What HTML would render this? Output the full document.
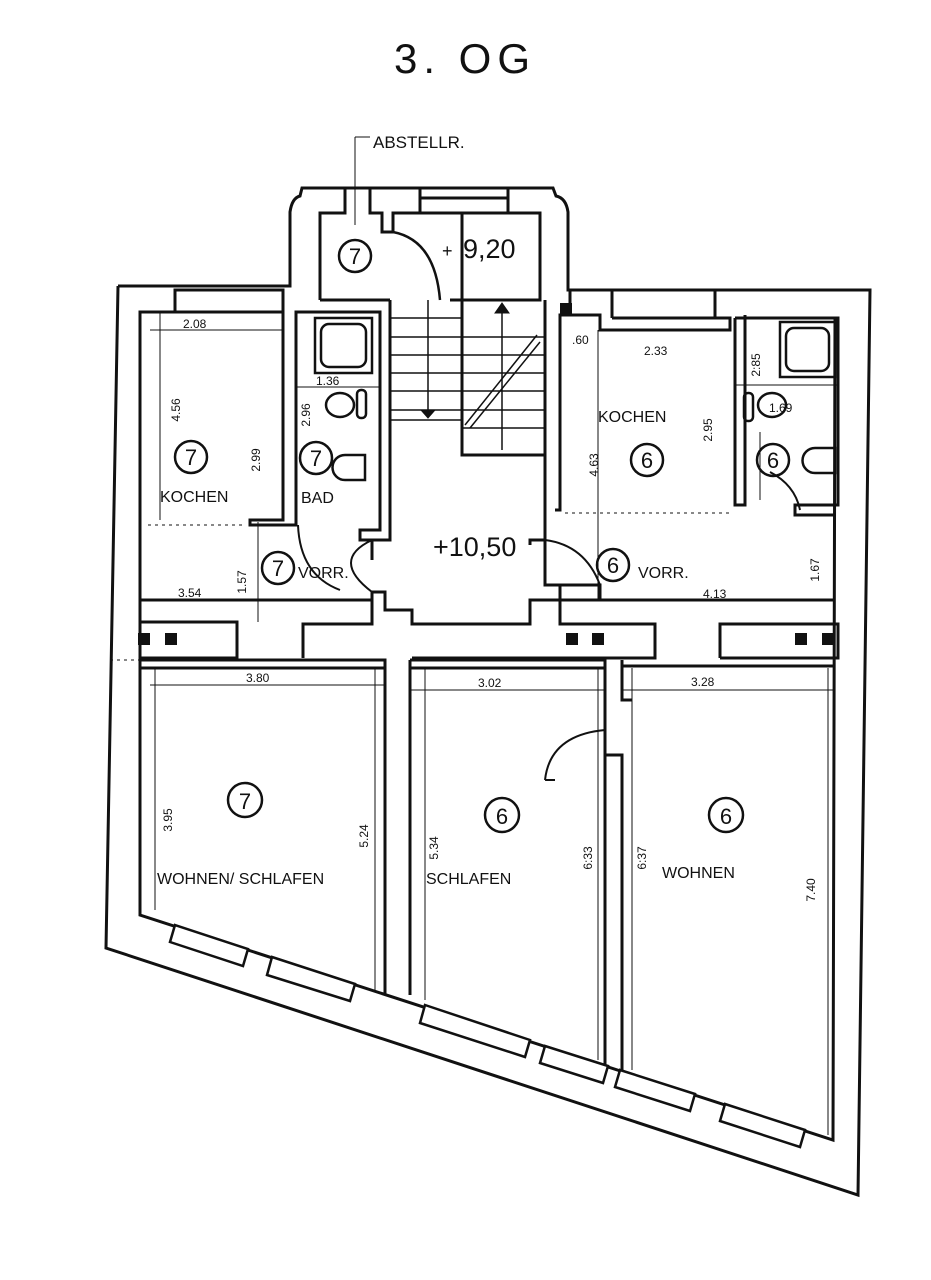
<!DOCTYPE html>
<html><head><meta charset="utf-8"><style>
html,body{margin:0;padding:0;background:#fff;}
svg{display:block}
text{font-family:"Liberation Sans",sans-serif;fill:#111}
</style></head><body>
<svg width="931" height="1280" viewBox="0 0 931 1280" xmlns="http://www.w3.org/2000/svg">
<g fill="none" stroke="#111" stroke-width="3" stroke-linejoin="miter">
<!-- outer perimeter -->
<path d="M118,286 L290,286 L290,212 Q292,198 300,196 L302,188 L553,188 L556,196 Q566,198 568,212 L568,290 L870,290 L858,1195 L106,948 L118,286"/>
<!-- inner lines of outer walls -->
<path d="M148,312 L140,312 L140,915 L833,1140 L835,318"/>
<path d="M175,312 L175,290 L283,290 L283,312 Z"/>
<path d="M148,312 L283,312 L283,520 L250,520 L250,525 L296,525 L296,312 L380,312 L380,530 L360,530 L360,540 L380,540"/>
<!-- abstell block -->
<path d="M320,300 L320,213 L345,213 L345,188 M370,188 L370,213 L382,213 L382,232 L393,232 L393,213 L540,213 L540,300 L450,300"/>
<path d="M420,188 L420,198 L508,198 L508,188 M420,198 L420,213 M508,198 L508,213"/>
<path d="M320,300 L390,300"/>
<!-- stairwell -->
<path d="M390,300 L390,540 L372,540 L372,560 M545,300 L545,540 L530,540 L530,545"/>
<path d="M462,213 L462,455 L545,455"/>
<g stroke-width="1.5">
<line x1="390" y1="318" x2="462" y2="318"/><line x1="390" y1="337" x2="462" y2="337"/><line x1="390" y1="355" x2="462" y2="355"/><line x1="390" y1="373" x2="462" y2="373"/><line x1="390" y1="391" x2="462" y2="391"/><line x1="390" y1="410" x2="462" y2="410"/><line x1="390" y1="420" x2="462" y2="420"/>
<line x1="462" y1="337" x2="545" y2="337"/><line x1="462" y1="355" x2="545" y2="355"/><line x1="462" y1="373" x2="545" y2="373"/><line x1="462" y1="391" x2="545" y2="391"/><line x1="462" y1="410" x2="545" y2="410"/><line x1="462" y1="428" x2="545" y2="428"/>
<line x1="428" y1="300" x2="428" y2="410"/><line x1="502" y1="305" x2="502" y2="450"/>
<line x1="465" y1="425" x2="537" y2="335"/><line x1="470" y1="428" x2="540" y2="342"/>
</g>
<path d="M421,410 L428,418 L435,410 Z M495,313 L502,303 L509,313 Z" fill="#111" stroke-width="1"/>
<path d="M393,232 Q435,240 440,300" stroke-width="2.5"/>
<!-- right side top -->
<path d="M570,290 L570,315 L600,315 L600,330 L730,330 L730,318 L715,318 L715,290 M612,318 L612,290 M612,318 L730,318"/>
<path d="M570,315 L560,315 L560,510 L555,510"/>
<path d="M735,318 L838,318 L838,505 L795,505 L795,515 L835,515"/>
<path d="M735,318 L735,505 L745,505 L745,315"/>
<path d="M545,540 L545,585 L600,585 L600,600 M560,585 L560,600"/>
<path d="M560,600 L835,600"/>
<!-- corridor walls -->
<path d="M140,622 L237,622 L237,658 L140,658"/>
<path d="M140,660 L385,660 L385,995"/>
<path d="M303,658 L303,624 L372,624 L372,592 L385,592 L385,610 L412,610 L412,624 L530,624 L530,600 L560,600 L560,624 L655,624 L655,658 L412,658"/>
<path d="M720,658 L720,624 L838,624 L838,658 L720,658"/>
<path d="M410,660 L410,995 M410,660 L605,660 L605,1065 M622,660 L622,700 L632,700 M605,755 L622,755 L622,1070 M622,666 L835,666"/>
<path d="M140,600 L372,600"/>
<path d="M140,668 L385,668 M410,668 L605,668"/>
</g>
<!-- windows on diagonal -->
<g fill="#fff" stroke="#111" stroke-width="2.5">
<polygon points="175,925 248,949 243,966 170,942"/>
<polygon points="272,957 355,984 350,1001 267,975"/>
<polygon points="425,1005 530,1040 525,1057 420,1023"/>
<polygon points="545,1046 608,1066 603,1083 540,1063"/>
<polygon points="620,1070 695,1094 690,1111 615,1087"/>
<polygon points="725,1104 805,1130 800,1147 720,1121"/>
</g>
<!-- thin dims -->
<g stroke="#111" stroke-width="1" fill="none">
<line x1="150" y1="330" x2="283" y2="330"/><line x1="160" y1="312" x2="160" y2="520"/>
<line x1="150" y1="685" x2="385" y2="685"/><line x1="155" y1="668" x2="155" y2="910"/><line x1="375" y1="668" x2="375" y2="990"/>
<line x1="410" y1="690" x2="605" y2="690"/><line x1="425" y1="668" x2="425" y2="1000"/><line x1="598" y1="668" x2="598" y2="1060"/>
<line x1="622" y1="690" x2="835" y2="690"/><line x1="632" y1="668" x2="632" y2="1070"/><line x1="828" y1="668" x2="828" y2="1135"/>
<line x1="296" y1="387" x2="380" y2="387"/><line x1="735" y1="385" x2="838" y2="385"/>
<line x1="598" y1="330" x2="598" y2="600"/><line x1="258" y1="522" x2="258" y2="622"/>
<line x1="148" y1="525" x2="245" y2="525" stroke-dasharray="3,4"/>
<line x1="565" y1="513" x2="730" y2="513" stroke-dasharray="3,4"/>
<line x1="110" y1="660" x2="300" y2="660" stroke-dasharray="3,4"/>
<line x1="355" y1="181" x2="355" y2="225"/><line x1="355" y1="137" x2="355" y2="181"/><line x1="355" y1="137" x2="370" y2="137"/>
<line x1="760" y1="432" x2="760" y2="500"/>
</g>
<!-- door arcs -->
<g fill="none" stroke="#111" stroke-width="2">
<path d="M298,525 Q300,575 340,590"/>
<path d="M372,592 Q330,560 372,540" />
<path d="M545,540 Q585,545 600,585"/>
<path d="M545,780 Q550,735 605,730 M545,780 L555,780"/>
<path d="M770,472 Q795,485 800,510"/>
</g>
<!-- fixtures -->
<g fill="none" stroke="#111" stroke-width="2.5">
<rect x="315" y="318" width="57" height="55"/><rect x="321" y="324" width="45" height="43" rx="8"/>
<rect x="780" y="322" width="55" height="55"/><rect x="786" y="328" width="43" height="43" rx="8"/>
<ellipse cx="340" cy="405" rx="14" ry="12"/><rect x="357" y="390" width="9" height="28" rx="4"/>
<path d="M345,455 h20 v25 h-20 a12,12 0 0 1 0,-25 z"/>
<ellipse cx="772" cy="405" rx="14" ry="12"/><rect x="744" y="393" width="9" height="28" rx="4"/>
<path d="M815,448 h20 v25 h-20 a12,12 0 0 1 0,-25 z"/>
</g>
<!-- chimney squares -->
<g fill="#111">
<rect x="138" y="633" width="12" height="12"/><rect x="165" y="633" width="12" height="12"/>
<rect x="566" y="633" width="12" height="12"/><rect x="592" y="633" width="12" height="12"/>
<rect x="795" y="633" width="12" height="12"/><rect x="822" y="633" width="12" height="12"/>
<rect x="560" y="303" width="12" height="12"/>
</g>
<!-- room circles -->
<g fill="none" stroke="#111" stroke-width="2.5">
<circle cx="355" cy="256" r="16"/><circle cx="191" cy="457" r="16"/><circle cx="316" cy="458" r="16"/>
<circle cx="278" cy="568" r="16"/><circle cx="613" cy="565" r="16"/><circle cx="647" cy="460" r="16"/>
<circle cx="773" cy="460" r="16"/><circle cx="245" cy="800" r="17"/><circle cx="502" cy="815" r="17"/><circle cx="726" cy="815" r="17"/>
</g>
<g font-size="22" text-anchor="middle">
<text x="355" y="264">7</text><text x="191" y="465">7</text><text x="316" y="466">7</text><text x="278" y="576">7</text>
<text x="613" y="573">6</text><text x="647" y="468">6</text><text x="773" y="468">6</text>
<text x="245" y="809">7</text><text x="502" y="824">6</text><text x="726" y="824">6</text>
</g>
<text x="465" y="73" font-size="42" text-anchor="middle" letter-spacing="6">3. OG</text>
<text x="373" y="148" font-size="17">ABSTELLR.</text>
<text x="442" y="257" font-size="18">+</text>
<text x="463" y="258" font-size="27">9,20</text>
<text x="433" y="556" font-size="27">+10,50</text>
<g font-size="16">
<text x="160" y="502">KOCHEN</text><text x="301" y="503">BAD</text><text x="298" y="578">VORR.</text>
<text x="598" y="422">KOCHEN</text><text x="638" y="578">VORR.</text>
<text x="157" y="884">WOHNEN/ SCHLAFEN</text><text x="426" y="884">SCHLAFEN</text><text x="662" y="878">WOHNEN</text>
</g>
<g font-size="12">
<text x="183" y="328">2.08</text><text x="178" y="597">3.54</text><text x="246" y="682">3.80</text>
<text x="478" y="687">3.02</text><text x="691" y="686">3.28</text><text x="316" y="385">1.36</text>
<text x="644" y="355">2.33</text><text x="572" y="344">.60</text><text x="769" y="412">1.69</text>
<text x="703" y="598">4.13</text>
</g>
<g font-size="12" text-anchor="middle">
<text transform="translate(180,410) rotate(-90)">4.56</text>
<text transform="translate(260,460) rotate(-90)">2.99</text>
<text transform="translate(310,415) rotate(-90)">2.96</text>
<text transform="translate(246,582) rotate(-90)">1.57</text>
<text transform="translate(598,465) rotate(-90)">4.63</text>
<text transform="translate(712,430) rotate(-90)">2.95</text>
<text transform="translate(760,365) rotate(-90)">2:85</text>
<text transform="translate(819,570) rotate(-90)">1.67</text>
<text transform="translate(172,820) rotate(-90)">3.95</text>
<text transform="translate(368,836) rotate(-90)">5.24</text>
<text transform="translate(438,848) rotate(-90)">5.34</text>
<text transform="translate(592,858) rotate(-90)">6:33</text>
<text transform="translate(646,858) rotate(-90)">6:37</text>
<text transform="translate(815,890) rotate(-90)">7.40</text>
</g>
</svg>
</body></html>
